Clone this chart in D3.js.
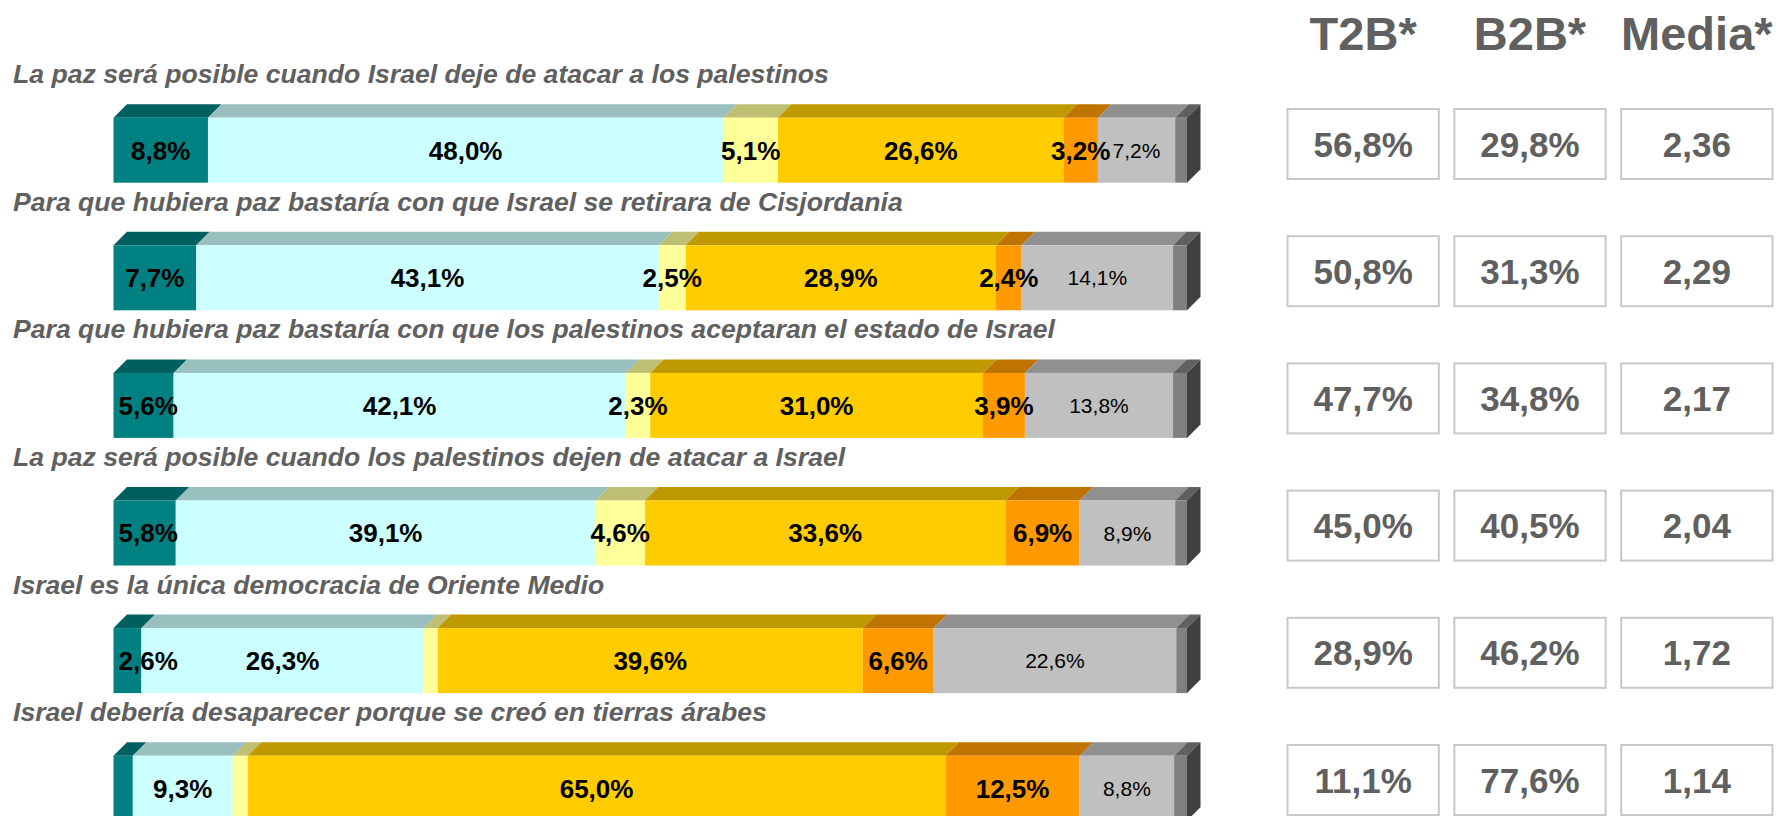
<!DOCTYPE html>
<html>
<head>
<meta charset="utf-8">
<script src="https://cdn.jsdelivr.net/npm/d3@7"></script>
<style>
  body { margin: 0; background: #ffffff; }
  svg { display: block; }
</style>
</head>
<body>
<svg id="chart" width="1780" height="816"></svg>
<script>
// ---- Data -------------------------------------------------------------
const statements = [
  "La paz será posible cuando Israel deje de atacar a los palestinos",
  "Para que hubiera paz bastaría con que Israel se retirara de Cisjordania",
  "Para que hubiera paz bastaría con que los palestinos aceptaran el estado de Israel",
  "La paz será posible cuando los palestinos dejen de atacar a Israel",
  "Israel es la única democracia de Oriente Medio",
  "Israel debería desaparecer porque se creó en tierras árabes"
];

// Answer shares (%) per statement, in stacking order
const muyDeAcuerdo      = [8.8, 7.7, 5.6, 5.8, 2.6, 1.8];
const bastanteDeAcuerdo = [48.0, 43.1, 42.1, 39.1, 26.3, 9.3];
const niAcuerdoNiDesac  = [5.1, 2.5, 2.3, 4.6, 1.3, 1.4];
const pocoDeAcuerdo     = [26.6, 28.9, 31.0, 33.6, 39.6, 65.0];
const nadaDeAcuerdo     = [3.2, 2.4, 3.9, 6.9, 6.6, 12.5];
const noSabe            = [7.2, 14.1, 13.8, 8.9, 22.6, 8.8];
const noContesta        = [1.1, 1.3, 1.3, 1.1, 1.0, 1.2];

// Summary columns
const summaryHeaders = ["T2B*", "B2B*", "Media*"];
const t2b   = [56.8, 50.8, 47.7, 45.0, 28.9, 11.1];
const b2b   = [29.8, 31.3, 34.8, 40.5, 46.2, 77.6];
const media = [2.36, 2.29, 2.17, 2.04, 1.72, 1.14];

// ---- Setup ------------------------------------------------------------
const keys = ["muy", "bastante", "ni", "poco", "nada", "ns", "nc"];
const seriesByKey = {
  muy: muyDeAcuerdo, bastante: bastanteDeAcuerdo, ni: niAcuerdoNiDesac,
  poco: pocoDeAcuerdo, nada: nadaDeAcuerdo, ns: noSabe, nc: noContesta
};
const frontColor = {
  muy: "#008080", bastante: "#CCFFFF", ni: "#FFFF99",
  poco: "#FFCC00", nada: "#FF9900", ns: "#C0C0C0", nc: "#808080"
};
const shade = (c, f) => { const r = d3.rgb(c); return d3.rgb(r.r * f, r.g * f, r.b * f).formatHex(); };

const table = statements.map((s, i) => {
  const row = { statement: s, index: i };
  keys.forEach(k => row[k] = seriesByKey[k][i]);
  return row;
});

const locale = d3.formatLocale({ decimal: ",", thousands: ".", grouping: [3], currency: ["", "€"] });
const fmtPct = v => locale.format(".1f")(v) + "%";
const fmtMean = locale.format(".2f");

const FONT = "'Liberation Sans', Arial, Helvetica, sans-serif";
const DEPTH = 13.5;

const svg = d3.select("#chart");

const x = d3.scaleLinear().domain([0, 100]).range([113.5, 1187]);

// Bar rows: front faces 65px tall, 127.6px apart
const barStep = 127.6, barH = 65, barTop = 117.7;
const yBar = d3.scaleBand()
  .domain(d3.range(statements.length))
  .range([barTop, barTop + barStep * (statements.length - (1 - barH / barStep))])
  .paddingInner(1 - barH / barStep)
  .paddingOuter(0);

// Summary boxes
const boxStep = 127.2, boxH = 70, boxTop = 109;
const yBox = d3.scaleBand()
  .domain(d3.range(statements.length))
  .range([boxTop, boxTop + boxStep * (statements.length - (1 - boxH / boxStep))])
  .paddingInner(1 - boxH / boxStep)
  .paddingOuter(0);

const xCol = d3.scaleBand()
  .domain(summaryHeaders)
  .range([1287.5, 1772.5])
  .paddingInner(0.093)
  .paddingOuter(0);

const stacked = d3.stack().keys(keys)(table);

// ---- Statement titles -------------------------------------------------
svg.append("g").selectAll("text")
  .data(table)
  .join("text")
  .attr("x", 13)
  .attr("y", d => yBar(d.index) - 34.5)
  .attr("font-family", FONT)
  .attr("font-size", 26.6)
  .attr("font-weight", "bold")
  .attr("font-style", "italic")
  .attr("fill", "#606060")
  .text(d => d.statement);

// ---- 3D stacked bars --------------------------------------------------
const bars = svg.append("g");

stacked.forEach(layer => {
  const k = layer.key;
  const g = bars.append("g").attr("class", "layer-" + k);
  // top face
  g.selectAll("path.top")
    .data(layer)
    .join("path")
    .attr("class", "top")
    .attr("fill", shade(frontColor[k], 0.75))
    .attr("d", d => {
      const x0 = x(d[0]), x1 = x(d[1]), y0 = yBar(d.data.index);
      return `M${x0},${y0}L${x1},${y0}L${x1 + DEPTH},${y0 - DEPTH}L${x0 + DEPTH},${y0 - DEPTH}Z`;
    });
  // front face
  g.selectAll("rect.front")
    .data(layer)
    .join("rect")
    .attr("class", "front")
    .attr("x", d => x(d[0]))
    .attr("y", d => yBar(d.data.index))
    .attr("width", d => x(d[1]) - x(d[0]))
    .attr("height", yBar.bandwidth())
    .attr("fill", frontColor[k]);
});

// right side face of each bar
const lastLayer = stacked[stacked.length - 1];
bars.append("g").selectAll("path")
  .data(lastLayer)
  .join("path")
  .attr("fill", shade(frontColor.nc, 0.5))
  .attr("d", d => {
    const xe = x(d[1]), y0 = yBar(d.data.index), y1 = y0 + yBar.bandwidth();
    return `M${xe},${y0}L${xe + DEPTH},${y0 - DEPTH}L${xe + DEPTH},${y1 - DEPTH}L${xe},${y1}Z`;
  });

// ---- Segment value labels --------------------------------------------
const labels = svg.append("g");
stacked.forEach((layer, li) => {
  const k = layer.key;
  if (k === "nc") return;
  const shown = layer.filter(d => (d[1] - d[0]) >= 2);
  labels.append("g").selectAll("text")
    .data(shown)
    .join("text")
    .attr("y", d => yBar(d.data.index) + yBar.bandwidth() / 2)
    .attr("dy", "0.36em")
    .attr("text-anchor", "middle")
    .attr("font-family", FONT)
    .attr("font-size", k === "ns" ? 21 : 26)
    .attr("font-weight", k === "ns" ? "normal" : "bold")
    .attr("fill", "#000")
    .text(d => fmtPct(d.data[k]))
    .attr("x", function(d) {
      const x0 = x(d[0]), x1 = x(d[1]);
      const c = (x0 + x1) / 2;
      if (li === 0) {
        const w = this.getComputedTextLength();
        return Math.max(c, x0 + w / 2 + 5);
      }
      return c;
    });
});

// ---- Summary columns -------------------------------------------------
const summary = svg.append("g");
summary.selectAll("text.head")
  .data(summaryHeaders)
  .join("text")
  .attr("class", "head")
  .attr("x", d => xCol(d) + xCol.bandwidth() / 2)
  .attr("y", 50)
  .attr("text-anchor", "middle")
  .attr("font-family", FONT)
  .attr("font-size", 47)
  .attr("font-weight", "bold")
  .attr("fill", "#606060")
  .text(d => d);

const cells = [];
table.forEach(d => {
  cells.push({ col: "T2B*", i: d.index, text: fmtPct(t2b[d.index]) });
  cells.push({ col: "B2B*", i: d.index, text: fmtPct(b2b[d.index]) });
  cells.push({ col: "Media*", i: d.index, text: fmtMean(media[d.index]) });
});

const cellG = summary.selectAll("g.cell")
  .data(cells)
  .join("g")
  .attr("class", "cell")
  .attr("transform", d => `translate(${xCol(d.col)},${yBox(d.i)})`);

cellG.append("rect")
  .attr("width", xCol.bandwidth())
  .attr("height", yBox.bandwidth())
  .attr("fill", "#ffffff")
  .attr("stroke", "#C8C8C8")
  .attr("stroke-width", 2);

cellG.append("text")
  .attr("x", xCol.bandwidth() / 2)
  .attr("y", yBox.bandwidth() / 2)
  .attr("dy", "0.36em")
  .attr("text-anchor", "middle")
  .attr("font-family", FONT)
  .attr("font-size", 35)
  .attr("font-weight", "bold")
  .attr("fill", "#606060")
  .text(d => d.text);
</script>
</body>
</html>
